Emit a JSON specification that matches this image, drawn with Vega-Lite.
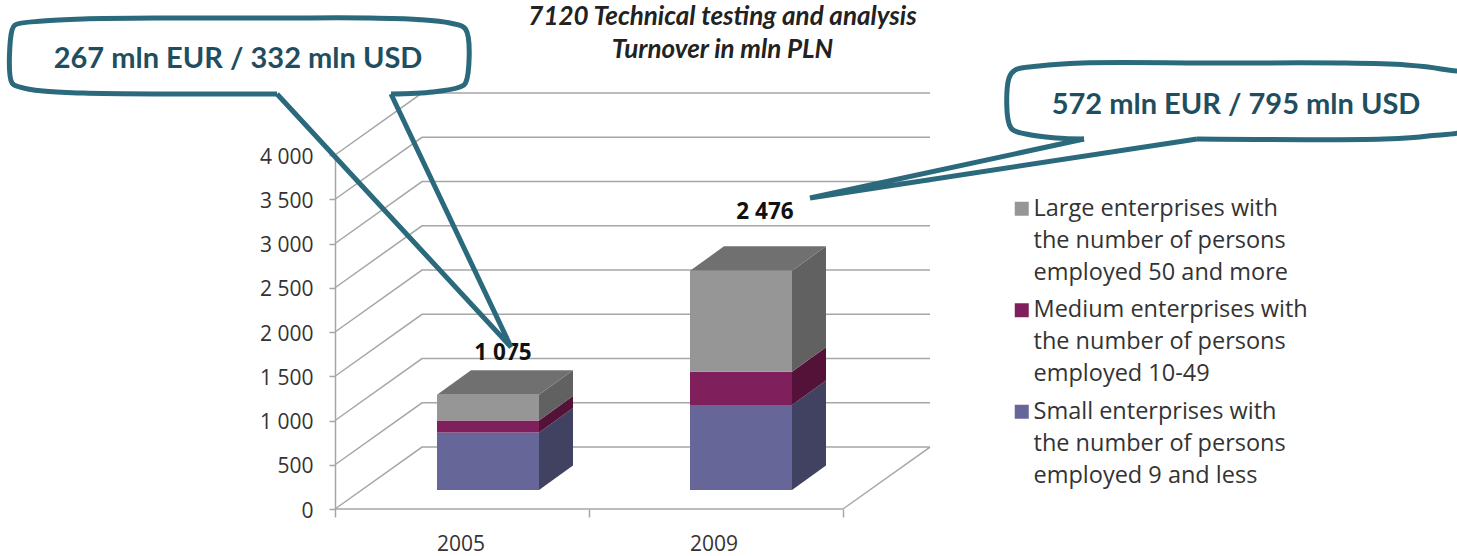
{
"$schema":"https://vega.github.io/schema/vega-lite/v6.json",
"width":595,"height":354,
"autosize":"none",
"padding":{"left":335,"top":155,"right":527,"bottom":47},
"background":"white",
"title":{"text":["7120 Technical testing and analysis","Turnover in mln PLN"],"font":"Lato","fontSize":26,"fontWeight":"bold","fontStyle":"italic","color":"#222222","lineHeight":33,"anchor":"middle","dx":90,"offset":0,"dy":55.5},
"config":{"view":{"stroke":null},"style":{"guide-label":{"lineHeight":32}}},
"datasets":{
"wall":[
{"line":"0","x":0,"y":0},{"line":"0","x":87,"y":700},{"line":"0","x":595,"y":700},
{"line":"500","x":0,"y":500},{"line":"500","x":87,"y":1200},{"line":"500","x":595,"y":1200},
{"line":"1000","x":0,"y":1000},{"line":"1000","x":87,"y":1700},{"line":"1000","x":595,"y":1700},
{"line":"1500","x":0,"y":1500},{"line":"1500","x":87,"y":2200},{"line":"1500","x":595,"y":2200},
{"line":"2000","x":0,"y":2000},{"line":"2000","x":87,"y":2700},{"line":"2000","x":595,"y":2700},
{"line":"2500","x":0,"y":2500},{"line":"2500","x":87,"y":3200},{"line":"2500","x":595,"y":3200},
{"line":"3000","x":0,"y":3000},{"line":"3000","x":87,"y":3700},{"line":"3000","x":595,"y":3700},
{"line":"3500","x":0,"y":3500},{"line":"3500","x":87,"y":4200},{"line":"3500","x":595,"y":4200},
{"line":"4000","x":0,"y":4000},{"line":"4000","x":87,"y":4700},{"line":"4000","x":595,"y":4700},
{"line":"floor","x":0,"y":0},{"line":"floor","x":508,"y":0},
{"line":"edge","x":508,"y":0},{"line":"edge","x":595,"y":700}
],
"front":[
{"year":"2005","segment":"Small enterprises with the number of persons employed 9 and less","value":650,"x":102,"x2":204,"y":215,"y2":865},
{"year":"2005","segment":"Medium enterprises with the number of persons employed 10-49","value":135,"x":102,"x2":204,"y":865,"y2":1000},
{"year":"2005","segment":"Large enterprises with the number of persons employed 50 and more","value":290,"x":102,"x2":204,"y":1000,"y2":1290},
{"year":"2009","segment":"Small enterprises with the number of persons employed 9 and less","value":960,"x":355,"x2":457,"y":215,"y2":1175},
{"year":"2009","segment":"Medium enterprises with the number of persons employed 10-49","value":376,"x":355,"x2":457,"y":1175,"y2":1551},
{"year":"2009","segment":"Large enterprises with the number of persons employed 50 and more","value":1140,"x":355,"x2":457,"y":1551,"y2":2691}
],
"side":[
{"bar":"2005 Small","segment":"Small","x":204,"y":215,"y2":865},{"bar":"2005 Small","segment":"Small","x":238,"y":492,"y2":1142},
{"bar":"2005 Medium","segment":"Medium","x":204,"y":865,"y2":1000},{"bar":"2005 Medium","segment":"Medium","x":238,"y":1142,"y2":1277},
{"bar":"2005 Large","segment":"Large","x":204,"y":1000,"y2":1290},{"bar":"2005 Large","segment":"Large","x":238,"y":1277,"y2":1567},
{"bar":"2009 Small","segment":"Small","x":457,"y":215,"y2":1175},{"bar":"2009 Small","segment":"Small","x":491,"y":492,"y2":1452},
{"bar":"2009 Medium","segment":"Medium","x":457,"y":1175,"y2":1551},{"bar":"2009 Medium","segment":"Medium","x":491,"y":1452,"y2":1828},
{"bar":"2009 Large","segment":"Large","x":457,"y":1551,"y2":2691},{"bar":"2009 Large","segment":"Large","x":491,"y":1828,"y2":2968}
],
"top":[
{"year":"2005","x":102,"x2":204,"y":1290},{"year":"2005","x":136,"x2":238,"y":1567},
{"year":"2009","x":355,"x2":457,"y":2691},{"year":"2009","x":389,"x2":491,"y":2968}
],
"totals":[{"label":"1 075","x":168,"y":1762},{"label":"2 476","x":430,"y":3355}],
"years":[{"label":"2005","x":126,"y":0},{"label":"2009","x":379,"y":0}],
"notes":[{"label":"267 mln EUR / 332 mln USD","x":-97,"y":5084},{"label":"572 mln EUR / 795 mln USD","x":901,"y":4564}],
"boxes":[
{"c":"a","i":1,"x":-58,"y":4689},{"c":"a","i":2,"x":-168,"y":4689},{"c":"a","i":3,"x":-252,"y":4700},{"c":"a","i":4,"x":-292,"y":4723},{"c":"a","i":5,"x":-315,"y":4768},{"c":"a","i":6,"x":-323,"y":4813},{"c":"a","i":7,"x":-323,"y":5412},{"c":"a","i":8,"x":-320,"y":5469},{"c":"a","i":9,"x":-292,"y":5514},{"c":"a","i":10,"x":-252,"y":5537},{"c":"a","i":11,"x":-168,"y":5548},{"c":"a","i":12,"x":-58,"y":5548},{"c":"a","i":13,"x":32,"y":5548},{"c":"a","i":14,"x":82,"y":5531},{"c":"a","i":15,"x":115,"y":5491},{"c":"a","i":16,"x":130.5,"y":5424},{"c":"a","i":17,"x":130.5,"y":4813},{"c":"a","i":18,"x":125,"y":4768},{"c":"a","i":19,"x":98,"y":4712},{"c":"a","i":20,"x":56,"y":4689},
{"c":"b","i":1,"x":749,"y":4181},{"c":"b","i":2,"x":721,"y":4192},{"c":"b","i":3,"x":691,"y":4237},{"c":"b","i":4,"x":676,"y":4305},{"c":"b","i":5,"x":674,"y":4870},{"c":"b","i":6,"x":680,"y":4960},{"c":"b","i":7,"x":704,"y":5005},{"c":"b","i":8,"x":747,"y":5039},{"c":"b","i":9,"x":877,"y":5039},{"c":"b","i":10,"x":1006,"y":5039},{"c":"b","i":11,"x":1071,"y":5017},{"c":"b","i":12,"x":1106,"y":4972},{"c":"b","i":13,"x":1135,"y":4881},{"c":"b","i":14,"x":1135,"y":4316},{"c":"b","i":15,"x":1093,"y":4215},{"c":"b","i":16,"x":1049,"y":4181},{"c":"b","i":17,"x":862,"y":4181}
],
"tails":[
{"c":"a","i":0,"x":-58,"y":4689},{"c":"a","i":1,"x":176,"y":1830},{"c":"a","i":2,"x":56,"y":4689},
{"c":"b","i":0,"x":749,"y":4181},{"c":"b","i":1,"x":475,"y":3514},{"c":"b","i":2,"x":862,"y":4181}
]
},
"encoding":{
"x":{"field":"x","type":"quantitative","title":null,"scale":{"domain":[0,595],"nice":false,"zero":false},
 "axis":{"values":[0,254,508],"labels":false,"domain":false,"grid":false,"ticks":true,"tickSize":8,"tickColor":"#a6a6a6","tickWidth":1.5}},
"y":{"field":"y","type":"quantitative","title":null,"scale":{"domain":[0,4000],"nice":false,"zero":false},
 "axis":{"values":[0,500,1000,1500,2000,2500,3000,3500,4000],"format":",.0f","labelExpr":"replace(datum.label, ',', ' ')","grid":false,"domainColor":"#a6a6a6","domainWidth":1.5,"tickColor":"#a6a6a6","tickWidth":1.5,"tickSize":6,"labelPadding":16,"labelOffset":2,"labelFont":"Open Sans","labelFontSize":21,"labelColor":"#333333"}}
},
"layer":[
{"data":{"name":"wall"},"mark":{"type":"line","color":"#a6a6a6","strokeWidth":1.5,"clip":false},"encoding":{"detail":{"field":"line"}}},
{"data":{"name":"side"},"mark":{"type":"area"},"encoding":{"y":{"field":"y","type":"quantitative","stack":null},"y2":{"field":"y2"},"detail":{"field":"bar"},"color":{"field":"segment","type":"nominal","legend":null,"scale":{"domain":["Large","Medium","Small"],"range":["#616161","#541238","#414162"]}}}},
{"data":{"name":"top"},"mark":{"type":"area","orient":"horizontal","color":"#707070"},"encoding":{"x2":{"field":"x2"},"detail":{"field":"year"}}},
{"data":{"name":"front"},"mark":{"type":"rect"},"encoding":{"x2":{"field":"x2"},"y2":{"field":"y2"},
 "color":{"field":"segment","type":"nominal","title":null,
  "scale":{"domain":["Large enterprises with the number of persons employed 50 and more","Medium enterprises with the number of persons employed 10-49","Small enterprises with the number of persons employed 9 and less"],"range":["#969696","#7F1F5C","#666699"]},
  "legend":{"orient":"none","legendX":675,"legendY":42,"symbolType":"square","symbolSize":196,"symbolStrokeWidth":0,"labelFont":"Open Sans","labelFontSize":23.5,"labelColor":"#333333","labelLimit":400,"labelOffset":0,"rowPadding":12.5,"labelExpr":"split(replace(replace(datum.label,' with ',' with|'),' employed','|employed'),'|')"}}}},
{"data":{"name":"totals"},"mark":{"type":"text","font":"Open Sans","fontSize":22.5,"fontWeight":"bold","color":"#111111"},"encoding":{"text":{"field":"label"}}},
{"data":{"name":"years"},"mark":{"type":"text","font":"Open Sans","fontSize":21,"color":"#333333","dy":36},"encoding":{"text":{"field":"label"}}},
{"data":{"name":"tails"},"mark":{"type":"line","color":"#2A6A7C","strokeWidth":5,"strokeJoin":"miter","clip":false},"encoding":{"detail":{"field":"c"},"order":{"field":"i","type":"quantitative"}}},
{"data":{"name":"boxes"},"mark":{"type":"line","color":"#2A6A7C","strokeWidth":5,"interpolate":"catmull-rom","clip":false},"encoding":{"detail":{"field":"c"},"order":{"field":"i","type":"quantitative"}}},
{"data":{"name":"notes"},"mark":{"type":"text","font":"Lato","fontSize":29,"fontWeight":"bold","color":"#1F4E5F"},"encoding":{"text":{"field":"label"}}}
],
"resolve":{"scale":{"color":"independent"}}
}
